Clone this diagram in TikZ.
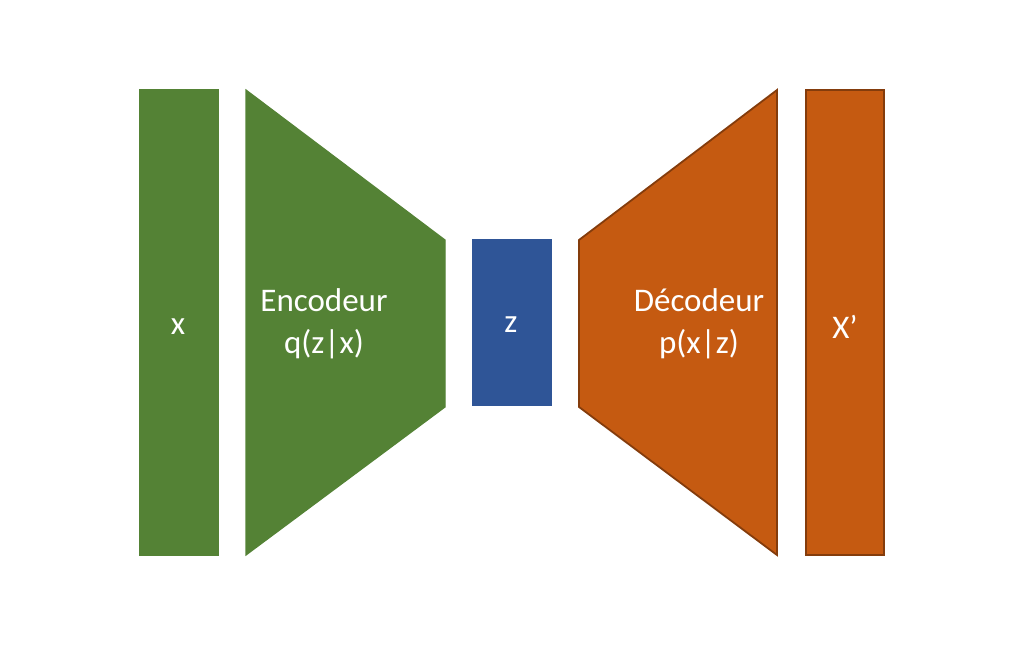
\documentclass[tikz,border=0pt]{standalone}
\usepackage{fontspec}
\setmainfont{Carlito}
\usepackage{xcolor}
\usetikzlibrary{positioning}
\definecolor{encgreen}{HTML}{548235}
\definecolor{latblue}{HTML}{2F5597}
\definecolor{decorange}{HTML}{C55A11}
\definecolor{decborder}{HTML}{843C0C}
\tikzset{
  greenpart/.style = {fill=encgreen, draw=encgreen, line width=0.6pt},
  bluepart/.style = {fill=latblue, draw=latblue, line width=0.6pt},
  orangepart/.style = {fill=decorange, draw=decborder, line width=0.9pt},
  label/.style = {text=white, font=\fontsize{16.5}{21}\selectfont, align=center, inner sep=0pt}
}

\begin{document}
\begin{tikzpicture}[x=0.5pt, y=-0.5pt]
    \useasboundingbox (0,0) rectangle (1024,647);
    % Place shapes
    \draw [greenpart] (140,90) rectangle (218,555);
    \draw [greenpart] (246,90) -- (445,240) -- (445,407) -- (246,555) -- cycle;
    \draw [bluepart] (473,240) rectangle (551,405);
    \draw [orangepart] (579,240) -- (777,90) -- (777,555) -- (579,407) -- cycle;
    \draw [orangepart] (806,90) rectangle (884,555);

    % Place labels
    \node [label] (input) at (178,327) {x};
    \node [label] (encoder) at (324,324) {Encodeur\\q(z|x)};
    \node [label] (latent) at (511,325) {z};
    \node [label] (decoder) at (699,324) {Décodeur\\p(x|z)};
    \node [label] (output) at (845,327) {X’};
\end{tikzpicture}
\end{document}
